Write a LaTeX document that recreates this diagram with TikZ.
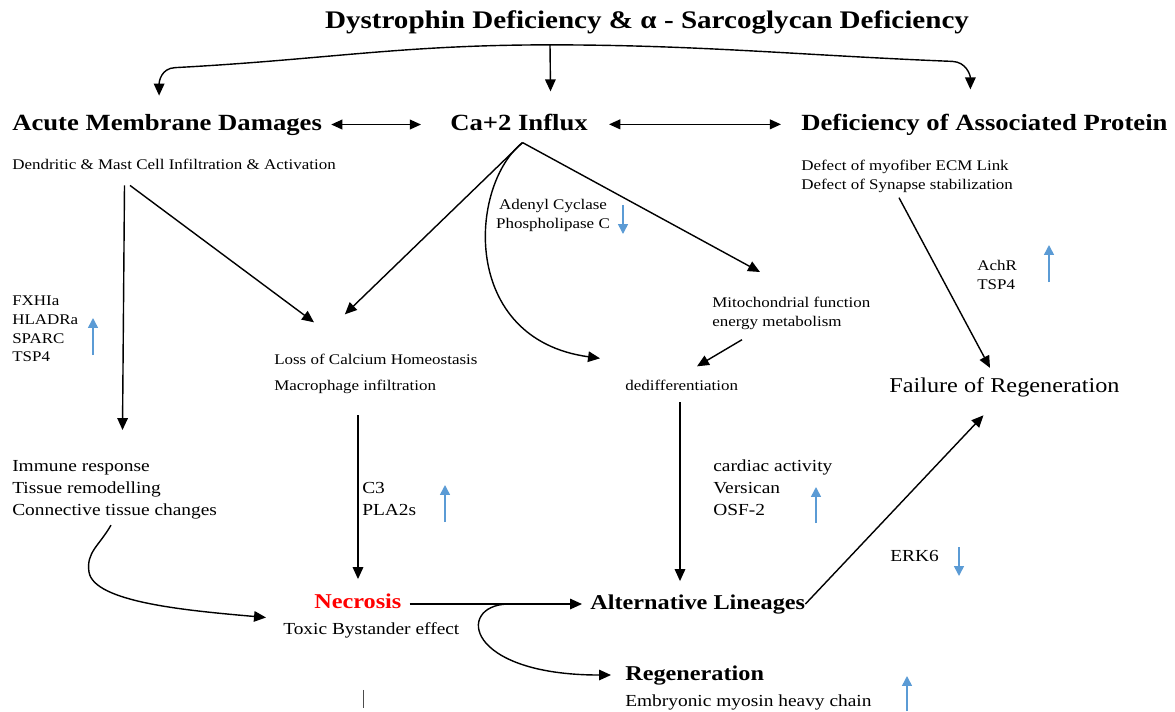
\documentclass[tikz,border=0pt]{standalone}
\usepackage{fontspec}
\setmainfont{Liberation Serif}[FakeStretch=1.15]
\usetikzlibrary{arrows.meta,calc}
\definecolor{markblue}{RGB}{91,155,213}

\begin{document}
\begin{tikzpicture}[scale=0.25]
\tikzstyle{every node}+=[inner sep=0pt]
\tikzstyle{head}=[font=\fontsize{16.5}{20}\selectfont\bfseries]
\tikzstyle{sub}=[font=\fontsize{15}{18}\selectfont\bfseries]
\tikzstyle{small}=[font=\fontsize{10.5}{13.2}\selectfont]
\tikzstyle{mid}=[font=\fontsize{12}{15.6}\selectfont]
\tikzstyle{arr}=[black, line width=1pt, -{Triangle[length=8.5pt,width=7.5pt]}]
\tikzstyle{dbl}=[black, line width=1pt, {Triangle[length=8pt,width=7pt]}-{Triangle[length=8pt,width=7pt]}]
\tikzstyle{regarr}=[markblue, line width=1.1pt, -{Triangle[length=7pt,width=7pt]}]
\useasboundingbox (0,0) rectangle (117.5,-71.1);
\node[font=\fontsize{18}{22}\selectfont\bfseries, anchor=base] (title) at (64.7,-2.8) {Dystrophin Deficiency \& α - Sarcoglycan Deficiency};
\node[head, anchor=base west] (amd) at (1.2,-13.0) {Acute Membrane Damages};
\node[head, anchor=base west] (ca) at (45.0,-13.0) {Ca+2 Influx};
\node[head, anchor=base west] (dap) at (80.1,-13.0) {Deficiency of Associated Protein};
\node[small, anchor=base west] (dmc) at (1.2,-16.9) {Dendritic \& Mast Cell Infiltration \& Activation};
\node[small, align=left, anchor=north west] (dml) at (80.1,-16.0) {Defect of myofiber ECM Link\\Defect of Synapse stabilization};
\node[small, align=center, anchor=north] (acpc) at (55.3,-19.9) {Adenyl Cyclase\\Phospholipase C};
\node[small, align=left, anchor=north west] (fx) at (1.2,-29.6) {FXHIa\\HLADRa\\SPARC\\TSP4};
\node[small, anchor=base west] (lch) at (27.4,-36.4) {Loss of Calcium Homeostasis};
\node[small, anchor=base west] (mac) at (27.4,-39.0) {Macrophage infiltration};
\node[small, align=left, anchor=north west] (mito) at (71.2,-29.7) {Mitochondrial function\\energy metabolism};
\node[small, anchor=base west] (dedi) at (62.5,-39.0) {dedifferentiation};
\node[font=\fontsize{15}{18}\selectfont, anchor=base west] (fail) at (88.9,-39.2) {Failure of Regeneration};
\node[small, align=left, anchor=north west] (ach) at (97.7,-26.0) {AchR\\TSP4};
\node[mid, align=left, anchor=north west] (imm) at (1.2,-46.0) {Immune response\\Tissue remodelling\\Connective tissue changes};
\node[mid, align=left, anchor=north west] (c3) at (36.2,-48.2) {C3\\PLA2s};
\node[mid, align=left, anchor=north west] (card) at (71.3,-46.0) {cardiac activity\\Versican\\OSF-2};
\node[mid, anchor=base west] (erk) at (89.0,-56.1) {ERK6};
\node[sub, anchor=base west, text=red] (nec) at (31.4,-60.8) {Necrosis};
\node[mid, anchor=base west] (tox) at (28.3,-63.4) {Toxic Bystander effect};
\node[sub, anchor=base west] (alt) at (59.0,-60.9) {Alternative Lineages};
\node[sub, anchor=base west] (reg) at (62.5,-68.0) {Regeneration};
\node[mid, anchor=base west] (emb) at (62.5,-70.6) {Embryonic myosin heavy chain};
\coordinate (fork) at ($(title.south)+(-9.7,-1.1)$);
\draw[arr] (fork) -- ($(ca.north)+(3.15,2.2)$);
\draw[arr] (fork) .. controls +(-15,0) and +(15,0.8) .. ($(amd.north)+(0.8,4.6)$) .. controls +(-1.4,-0.06) and +(0,1.4) .. ($(amd.north)+(-0.8,1.8)$);
\draw[arr] (fork) .. controls +(15,0) and +(-15,0.6) .. ($(dap.north)+(-3.2,5.2)$) .. controls +(1.4,-0.06) and +(0,1.4) .. ($(dap.north)+(-1.4,2.4)$);
\draw[dbl, shorten <=0.225cm, shorten >=0.725cm] (amd.east) -- (amd.east -| ca.west);
\draw[dbl, shorten <=0.525cm, shorten >=0.5cm] (dap.west -| ca.east) -- (dap.west);
\draw[arr] ($(dmc.south west)+(11.25,-1.6)$) -- ($(imm.north west)+(11.05,3.0)$);
\draw[arr] ($(dmc.south west)+(11.8,-1.6)$) -- ($(lch.north west)+(4.0,3.1)$);
\coordinate (apex) at ($(ca.south)+(0.35,-1.2)$);
\draw[arr] (apex) -- ($(lch.north)+(-3.1,3.9)$);
\draw[arr] (apex) .. controls +(-5.4,-4.3) and +(-14,1.9) .. ($(dedi.north west)+(-2.5,2.1)$);
\draw[arr] (apex) -- ($(mito.north west)+(4.8,2.5)$);
\draw[arr] ($(mito.south west)+(3.0,-1.0)$) -- ($(dedi.north west)+(7.2,1.3)$);
\draw[arr] ($(dml.south west)+(9.8,-0.5)$) -- ($(fail.north west)+(10.1,0.9)$);
\draw[arr] ($(mac.south west)+(8.4,-2.2)$) -- ($(nec.north west)+(4.4,1.4)$);
\draw[arr] ($(dedi.south west)+(5.5,-1.2)$) -- ($(alt.north west)+(9.0,1.3)$);
\draw[arr] ($(imm.south west)+(9.9,-0.6)$) .. controls +(-1.2,-2.1) and +(-0.3,2.0) .. ($(imm.south west)+(7.7,-5.3)$) .. controls +(0.5,-3.0) and +(-8,0.7) .. ($(nec.south west)+(-4.8,-0.9)$);
\draw[arr, shorten <=0.2cm, shorten >=0.2cm] (alt.west -| nec.east) -- coordinate[pos=0.56] (br) (alt.west);
\draw[arr, shorten >=0.35cm] (br) .. controls +(-5.1,-0.2) and +(-16,0) .. (reg.west);
\draw[arr] (alt.east) -- ($(fail.south)+(-2.1,-1.85)$);
\draw[black!70, line width=0.5pt] ($(tox.south)+(-0.8,-5.2)$) -- ++(0,-1.8);
\draw[regarr] (9.3,-35.5) -- (9.3,-31.8);
\draw[regarr] (62.3,-20.5) -- (62.3,-23.4);
\draw[regarr] (104.9,-28.2) -- (104.9,-24.5);
\draw[regarr] (44.5,-52.2) -- (44.5,-48.5);
\draw[regarr] (81.6,-52.3) -- (81.6,-48.7);
\draw[regarr] (95.9,-54.7) -- (95.9,-57.6);
\draw[regarr] (90.7,-71.1) -- (90.7,-67.6);
\end{tikzpicture}
\end{document}
